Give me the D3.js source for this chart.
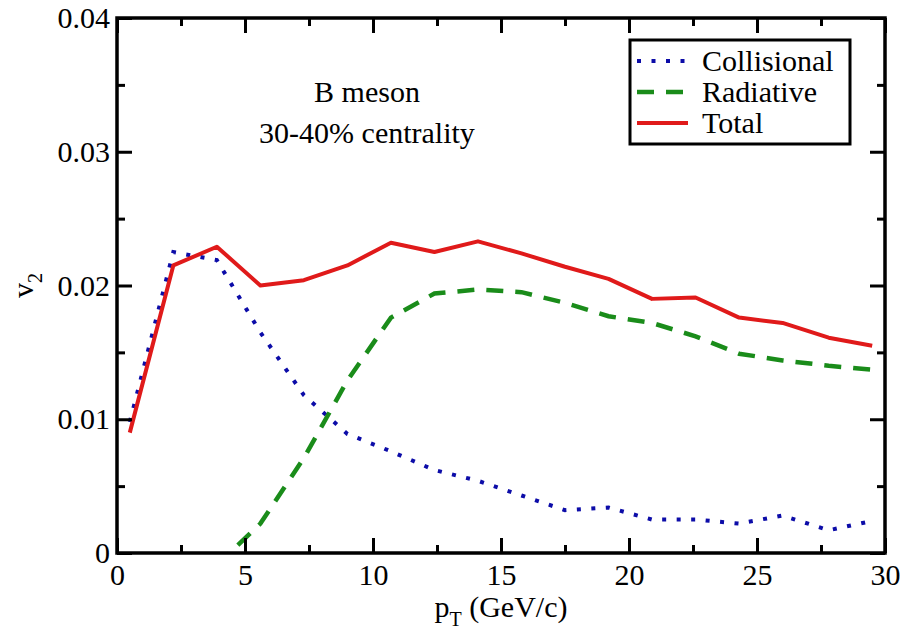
<!DOCTYPE html>
<html>
<head>
<meta charset="utf-8">
<script src="https://cdn.jsdelivr.net/npm/d3@7"></script>
</head>
<body style="margin:0">
<svg id="chart" width="915" height="633"></svg>
<script>
// ---- data ----
const pT = [0.5, 2.2, 3.9, 5.6, 7.3, 9.0, 10.7, 12.4, 14.1, 15.8, 17.5, 19.2, 20.9, 22.6, 24.3, 26.0, 27.8, 29.5];
const collisional = [0.0098, 0.0225, 0.0219, 0.0165, 0.0118, 0.0089, 0.0076, 0.0062, 0.0054, 0.0043, 0.0032, 0.0034, 0.0025, 0.0025, 0.0022, 0.0028, 0.0017, 0.0024];
const radiativePT = [3.9, 5.6, 7.3, 9.0, 10.7, 12.4, 14.1, 15.8, 17.5, 19.2, 20.9, 22.6, 24.3, 26.0, 27.8, 29.5];
const radiative = [-0.0009, 0.0022, 0.0071, 0.0129, 0.0176, 0.0194, 0.0197, 0.0195, 0.0187, 0.0177, 0.0172, 0.0162, 0.0149, 0.0144, 0.0140, 0.0137];
const total = [0.0090, 0.0215, 0.0229, 0.0200, 0.0204, 0.0215, 0.0232, 0.0225, 0.0233, 0.0224, 0.0214, 0.0205, 0.0190, 0.0191, 0.0176, 0.0172, 0.0161, 0.0155];
const xTicks = [0, 5, 10, 15, 20, 25, 30];
const xMinor = [2.5, 7.5, 12.5, 17.5, 22.5, 27.5];
const yTicks = [0, 0.01, 0.02, 0.03, 0.04];
const yTickLabels = ["0", "0.01", "0.02", "0.03", "0.04"];
const yMinor = [0.005, 0.015, 0.025, 0.035];
const legendLabels = ["Collisional", "Radiative", "Total"];
const annotation = ["B meson", "30-40% centrality"];

// ---- layout ----
const L = 117, R = 885, T = 18, B = 553;
const svg = d3.select("#chart");
const x = d3.scaleLinear().domain([0, 30]).range([L, R]);
const y = d3.scaleLinear().domain([0, 0.04]).range([B, T]);

const FS = 30;
const FONT = '"Liberation Serif"';
const majorLen = 15, minorLen = 8;

svg.append("defs").append("clipPath").attr("id", "clip")
  .append("rect").attr("x", L).attr("y", T).attr("width", R - L).attr("height", B - T);

// ---- series ----
const line = d3.line().x(d => x(d[0])).y(d => y(d[1]));
const g = svg.append("g").attr("clip-path", "url(#clip)");

g.append("path")
  .datum(pT.map((p, i) => [p, collisional[i]]))
  .attr("d", line).attr("fill", "none")
  .attr("stroke", "#0c0ca8").attr("stroke-width", 4)
  .attr("stroke-dasharray", "4,10.5");

g.append("path")
  .datum(radiativePT.map((p, i) => [p, radiative[i]]))
  .attr("d", line).attr("fill", "none")
  .attr("stroke", "#1a8c1a").attr("stroke-width", 4.5)
  .attr("stroke-dasharray", "17,12");

g.append("path")
  .datum(pT.map((p, i) => [p, total[i]]))
  .attr("d", line).attr("fill", "none")
  .attr("stroke", "#e01a1a").attr("stroke-width", 4)
  .attr("stroke-linejoin", "round");

// ---- axes (ticks inward, mirrored) ----
const axB = d3.axisBottom(x).tickValues(xTicks).tickSize(-majorLen).tickPadding(11).tickFormat(d3.format("d"));
const axBm = d3.axisBottom(x).tickValues(xMinor).tickSize(-minorLen).tickFormat("");
const axT = d3.axisTop(x).tickValues(xTicks).tickSize(-majorLen).tickFormat("");
const axTm = d3.axisTop(x).tickValues(xMinor).tickSize(-minorLen).tickFormat("");
const axL = d3.axisLeft(y).tickValues(yTicks).tickSize(-majorLen).tickPadding(7).tickFormat((d, i) => yTickLabels[i]);
const axLm = d3.axisLeft(y).tickValues(yMinor).tickSize(-minorLen).tickFormat("");
const axR = d3.axisRight(y).tickValues(yTicks).tickSize(-majorLen).tickFormat("");
const axRm = d3.axisRight(y).tickValues(yMinor).tickSize(-minorLen).tickFormat("");

function styleAxis(sel) {
  sel.attr("font-family", null).attr("font-size", null);
  sel.select(".domain").remove();
  sel.selectAll(".tick line").attr("stroke", "#000").attr("stroke-width", 3);
  sel.selectAll(".tick text").style("font-family", FONT).style("font-size", FS + "px").attr("fill", "#000");
}
svg.append("g").attr("transform", `translate(0,${B})`).call(axB).call(styleAxis);
svg.append("g").attr("transform", `translate(0,${B})`).call(axBm).call(styleAxis);
svg.append("g").attr("transform", `translate(0,${T})`).call(axT).call(styleAxis);
svg.append("g").attr("transform", `translate(0,${T})`).call(axTm).call(styleAxis);
svg.append("g").attr("transform", `translate(${L},0)`).call(axL).call(styleAxis);
svg.append("g").attr("transform", `translate(${L},0)`).call(axLm).call(styleAxis);
svg.append("g").attr("transform", `translate(${R},0)`).call(axR).call(styleAxis);
svg.append("g").attr("transform", `translate(${R},0)`).call(axRm).call(styleAxis);

// frame
svg.append("rect").attr("x", L).attr("y", T).attr("width", R - L).attr("height", B - T)
  .attr("fill", "none").attr("stroke", "#000").attr("stroke-width", 3.5);

function txt(sel) { return sel.style("font-family", FONT).style("font-size", FS + "px").attr("fill", "#000"); }

// ---- axis titles ----
const xt = svg.append("text").attr("x", (L + R) / 2).attr("y", 617)
  .attr("text-anchor", "middle").call(txt);
xt.append("tspan").style("font-family", FONT).text("p");
xt.append("tspan").style("font-family", FONT).style("font-size", "20px").attr("dy", 9).text("T");
xt.append("tspan").style("font-family", FONT).attr("dy", -9).text(" (GeV/c)");

const yt = svg.append("text").attr("transform", `translate(33,${(T + B) / 2}) rotate(-90)`)
  .attr("text-anchor", "middle").call(txt);
yt.append("tspan").style("font-family", FONT).text("v");
yt.append("tspan").style("font-family", FONT).style("font-size", "20px").attr("dy", 9).text("2");

// ---- annotation ----
svg.append("text").attr("x", 367).attr("y", 102).attr("text-anchor", "middle").call(txt).text(annotation[0]);
svg.append("text").attr("x", 367).attr("y", 143).attr("text-anchor", "middle").call(txt).text(annotation[1]);

// ---- legend ----
const lg = svg.append("g");
lg.append("rect").attr("x", 630).attr("y", 40).attr("width", 220).attr("height", 104)
  .attr("fill", "#fff").attr("stroke", "#000").attr("stroke-width", 3);
const legStyles = [
  { color: "#0c0ca8", dash: "4,10.5", w: 4 },
  { color: "#1a8c1a", dash: "17,12", w: 4.5 },
  { color: "#e01a1a", dash: null, w: 4 }
];
const rowY = [61, 92, 123];
legendLabels.forEach((lab, i) => {
  const s = legStyles[i];
  const ln = lg.append("line").attr("x1", 637).attr("x2", 688).attr("y1", rowY[i]).attr("y2", rowY[i])
    .attr("stroke", s.color).attr("stroke-width", s.w);
  if (s.dash) ln.attr("stroke-dasharray", s.dash);
  lg.append("text").attr("x", 702).attr("y", rowY[i] + 10).call(txt).text(lab);
});
</script>
</body>
</html>
